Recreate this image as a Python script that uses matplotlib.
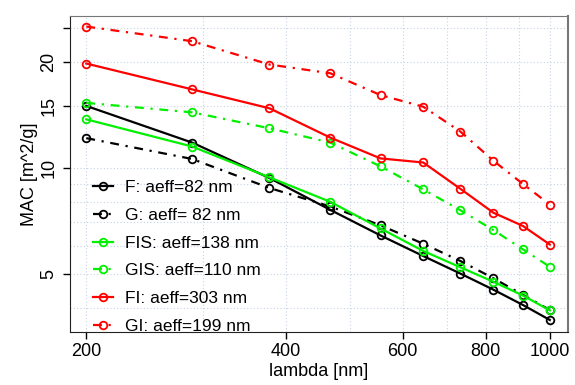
import matplotlib
matplotlib.use('Agg')
import matplotlib.pyplot as plt

plt.rcParams['font.family'] = ['Liberation Sans', 'DejaVu Sans']

# wavelengths [nm]
wavelength = [200, 288.9, 377.8, 466.7, 555.6, 644.4, 733.3, 822.2, 911.1, 1000]

# MAC values [m^2/g]
mac_F = [15.0, 11.8, 9.36, 7.6, 6.43, 5.62, 5.01, 4.51, 4.08, 3.70]
mac_G = [12.15, 10.6, 8.77, 7.77, 6.87, 6.09, 5.44, 4.86, 4.36, 3.95]
mac_FIS = [13.74, 11.5, 9.4, 8.01, 6.73, 5.81, 5.22, 4.75, 4.34, 3.94]
mac_GIS = [15.3, 14.38, 12.96, 11.8, 10.1, 8.69, 7.58, 6.66, 5.87, 5.24]
mac_FI = [19.79, 16.71, 14.77, 12.19, 10.64, 10.36, 8.72, 7.46, 6.84, 6.06]
mac_GI = [25.2, 22.9, 19.66, 18.57, 16.1, 14.92, 12.68, 10.48, 9.0, 7.87]

labels = ['F: aeff=82 nm', 'G: aeff= 82 nm', 'FIS: aeff=138 nm',
          'GIS: aeff=110 nm', 'FI: aeff=303 nm', 'GI: aeff=199 nm']
series = [mac_F, mac_G, mac_FIS, mac_GIS, mac_FI, mac_GI]
colors = ['black', 'black', '#00f000', '#00f000', 'red', 'red']
dotdash = (0, (4, 3, 1, 3))
styles = ['-', dotdash, '-', dotdash, '-', dotdash]

xticks = [200, 400, 600, 800, 1000]
yticks = [5, 10, 15, 20, 25]
yticklabels = ['5', '10', '15', '20', '']

fig = plt.figure(figsize=(5.75, 3.85), dpi=100)
ax = fig.add_axes([0.1217, 0.1377, 0.866, 0.8207])
ax.set_xscale('log')
ax.set_yscale('log')

# dotted grid
for gx in range(200, 1001, 100):
    ax.axvline(gx, color='#c6d2e4', lw=0.8, ls=(0, (1, 2)), zorder=0)
for gy in [4, 5, 6, 7, 8, 9, 10, 15, 20, 25]:
    ax.axhline(gy, color='#c6d2e4', lw=0.8, ls=(0, (1, 2)), zorder=0)

for vals, lab, c, ls in zip(series, labels, colors, styles):
    ax.plot(wavelength, vals, color=c, ls=ls, lw=1.6, marker='o',
            markersize=5.5, markerfacecolor='none', markeredgewidth=1.3,
            label=lab)

ax.set_xlim(189, 1065)
ax.set_ylim(3.42, 27.0)
ax.minorticks_off()
ax.set_xticks(xticks)
ax.set_xticklabels([str(t) for t in xticks])
ax.set_yticks(yticks)
ax.set_yticklabels(yticklabels, rotation=90, va='center')
ax.tick_params(axis='both', labelsize=13, length=5, width=1, direction='out')
ax.tick_params(axis='x', pad=3)
ax.tick_params(axis='y', pad=4)

for side in ['left', 'bottom']:
    ax.spines[side].set_color('#222222')
for side in ['top', 'right']:
    ax.spines[side].set_color('#777777')
ax.spines['right'].set_linewidth(1.5)

ax.set_xlabel('lambda [nm]', fontsize=13, labelpad=2)
ax.set_ylabel('MAC [m^2/g]', fontsize=13, labelpad=2)

ax.legend(loc='lower left', bbox_to_anchor=(0.015, -0.055), frameon=False,
          fontsize=12.5, handlelength=1.15, handletextpad=0.7,
          labelspacing=0.72, borderaxespad=0.5)

plt.savefig('out.png', dpi=100)
